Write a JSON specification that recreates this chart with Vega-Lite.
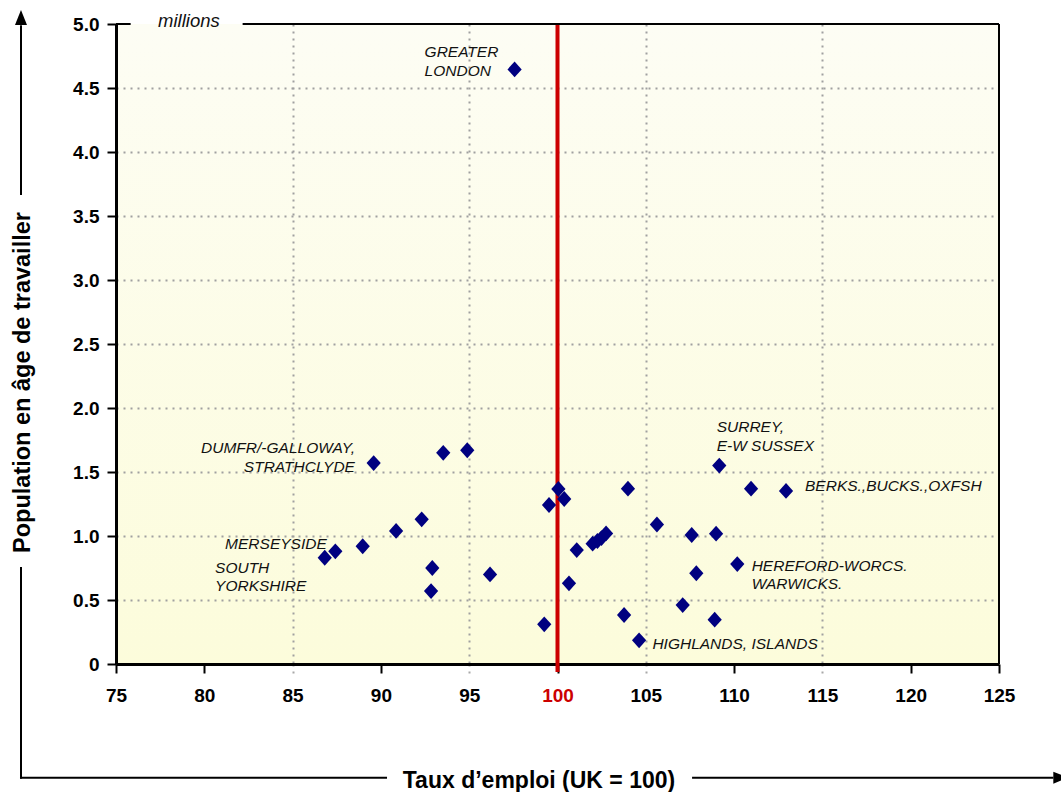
{
  "$schema": "https://vega.github.io/schema/vega-lite/v6.json",
  "width": 883,
  "height": 640,
  "autosize": {"type": "none"},
  "padding": {"left": 116, "top": 24, "right": 62, "bottom": 128},
  "background": "#ffffff",
  "view": {
    "stroke": null,
    "fill": {"gradient": "linear", "x1": 0, "y1": 0, "x2": 0, "y2": 1,
      "stops": [{"offset": 0, "color": "#fdfdf4"}, {"offset": 1, "color": "#fcfcdb"}]}
  },
  "datasets": {
    "regions": [
      {"region": "GREATER LONDON", "label": "GREATER\nLONDON", "taux": 97.57, "pop": 4.645},
      {"region": "DUMFR/-GALLOWAY, STRATHCLYDE", "label": "DUMFR/-GALLOWAY,\nSTRATHCLYDE", "taux": 89.59, "pop": 1.57},
      {"taux": 93.53, "pop": 1.65},
      {"taux": 94.89, "pop": 1.67},
      {"region": "SOUTH YORKSHIRE", "label": "SOUTH\nYORKSHIRE", "taux": 86.82, "pop": 0.83},
      {"region": "MERSEYSIDE", "label": "MERSEYSIDE", "taux": 87.42, "pop": 0.88},
      {"taux": 88.97, "pop": 0.92},
      {"taux": 90.86, "pop": 1.04},
      {"taux": 92.31, "pop": 1.13},
      {"taux": 92.91, "pop": 0.75},
      {"taux": 92.84, "pop": 0.57},
      {"taux": 96.18, "pop": 0.70},
      {"taux": 99.25, "pop": 0.31},
      {"taux": 99.52, "pop": 1.242},
      {"taux": 100.05, "pop": 1.367},
      {"taux": 100.38, "pop": 1.289},
      {"taux": 100.65, "pop": 0.63},
      {"taux": 101.09, "pop": 0.89},
      {"taux": 101.99, "pop": 0.94},
      {"taux": 102.26, "pop": 0.961},
      {"taux": 102.49, "pop": 0.984},
      {"taux": 102.75, "pop": 1.02},
      {"taux": 103.99, "pop": 1.37},
      {"taux": 103.77, "pop": 0.383},
      {"region": "HIGHLANDS, ISLANDS", "label": "HIGHLANDS, ISLANDS", "taux": 104.62, "pop": 0.185},
      {"taux": 105.63, "pop": 1.09},
      {"taux": 107.09, "pop": 0.46},
      {"taux": 107.6, "pop": 1.008},
      {"taux": 107.86, "pop": 0.709},
      {"taux": 108.9, "pop": 0.346},
      {"taux": 108.98, "pop": 1.018},
      {"region": "SURREY, E-W SUSSEX", "label": "SURREY,\nE-W SUSSEX", "taux": 109.16, "pop": 1.55},
      {"region": "HEREFORD-WORCS. WARWICKS.", "label": "HEREFORD-WORCS.\nWARWICKS.", "taux": 110.18, "pop": 0.781},
      {"taux": 110.96, "pop": 1.37},
      {"region": "BERKS.,BUCKS.,OXFSH", "label": "BERKS.,BUCKS.,OXFSH", "taux": 112.94, "pop": 1.352}
    ]
  },
  "layer": [
    {
      "data": {"values": [{}]},
      "mark": {"type": "rule", "color": "#cc0000", "strokeWidth": 4},
      "encoding": {
        "x": {"datum": 100, "type": "quantitative"},
        "y": {"datum": -0.0625, "type": "quantitative"},
        "y2": {"datum": 5}
      }
    },
    {
      "data": {"values": [{}]},
      "mark": {"type": "rule", "color": "#000000", "strokeWidth": 2},
      "encoding": {
        "x": {"datum": 75, "type": "quantitative"},
        "x2": {"datum": 75.83},
        "y": {"datum": 5, "type": "quantitative"}
      }
    },
    {
      "data": {"values": [{}]},
      "mark": {"type": "rule", "color": "#000000", "strokeWidth": 2},
      "encoding": {
        "x": {"datum": 82.17, "type": "quantitative"},
        "x2": {"datum": 125},
        "y": {"datum": 5, "type": "quantitative"}
      }
    },
    {
      "data": {"values": [{}]},
      "mark": {"type": "rule", "color": "#000000", "strokeWidth": 2},
      "encoding": {
        "x": {"datum": 125, "type": "quantitative"},
        "y": {"datum": 0, "type": "quantitative"},
        "y2": {"datum": 5}
      }
    },
    {
      "data": {"values": [{}]},
      "mark": {"type": "rule", "color": "#000000", "strokeWidth": 2, "strokeCap": "square"},
      "encoding": {
        "x": {"datum": 69.62, "type": "quantitative"},
        "y": {"datum": -0.888, "type": "quantitative"},
        "y2": {"datum": 0.75}
      }
    },
    {
      "data": {"values": [{}]},
      "mark": {"type": "rule", "color": "#000000", "strokeWidth": 2},
      "encoding": {
        "x": {"datum": 69.62, "type": "quantitative"},
        "y": {"datum": 3.664, "type": "quantitative"},
        "y2": {"datum": 4.99}
      }
    },
    {
      "data": {"values": [{}]},
      "mark": {"type": "rule", "color": "#000000", "strokeWidth": 2, "strokeCap": "square"},
      "encoding": {
        "x": {"datum": 69.62, "type": "quantitative"},
        "x2": {"datum": 90.29},
        "y": {"datum": -0.888, "type": "quantitative"}
      }
    },
    {
      "data": {"values": [{}]},
      "mark": {"type": "rule", "color": "#000000", "strokeWidth": 2},
      "encoding": {
        "x": {"datum": 107.62, "type": "quantitative"},
        "x2": {"datum": 128.08},
        "y": {"datum": -0.888, "type": "quantitative"}
      }
    },
    {
      "data": {"values": [{}]},
      "mark": {"type": "point", "shape": "M0,-1L0.8,1L-0.8,1Z", "filled": true, "size": 225, "color": "#000000", "opacity": 1},
      "encoding": {
        "x": {"datum": 69.62, "type": "quantitative"},
        "y": {"datum": 5.051, "type": "quantitative"}
      }
    },
    {
      "data": {"values": [{}]},
      "mark": {"type": "point", "shape": "M1,0L-1,-0.8L-1,0.8Z", "filled": true, "size": 225, "color": "#000000", "opacity": 1},
      "encoding": {
        "x": {"datum": 128.5, "type": "quantitative"},
        "y": {"datum": -0.888, "type": "quantitative"}
      }
    },
    {
      "data": {"name": "regions"},
      "mark": {"type": "point", "shape": "M0,-1L0.9,0L0,1L-0.9,0Z", "filled": true, "size": 250, "color": "#000080", "opacity": 1, "strokeWidth": 0},
      "encoding": {
        "x": {
          "field": "taux", "type": "quantitative",
          "scale": {"domain": [75, 125], "nice": false, "zero": false},
          "axis": {
            "values": [75, 80, 85, 90, 95, 100, 105, 110, 115, 120, 125],
            "title": "Taux d’emploi (UK = 100)",
            "titleFont": "Liberation Sans", "titleFontSize": 23, "titleFontWeight": "bold", "titleColor": "#000000",
            "titleX": 422.5, "titleY": 123, "titleAlign": "center", "titleBaseline": "alphabetic",
            "labelFont": "Liberation Sans", "labelFontSize": 19, "labelFontWeight": "bold",
            "labelColor": {"condition": {"test": "datum.value == 100", "value": "#cc0000"}, "value": "#000000"},
            "labelPadding": 13, "labelFlush": false, "labelOverlap": false,
            "tickSize": 9, "tickWidth": 2,
            "tickColor": {"condition": {"test": "datum.value % 10 == 5 && datum.value > 80 && datum.value < 120", "value": "#a8a8a8"}, "value": "#000000"},
            "tickDash": {"condition": {"test": "datum.value % 10 == 5 && datum.value > 80 && datum.value < 120", "value": [2, 5]}, "value": []},
            "domainColor": "#000000", "domainWidth": 3,
            "grid": true, "gridColor": "#a0a0a0", "gridDash": [2, 5], "gridWidth": 2,
            "gridOpacity": {"condition": {"test": "datum.value % 10 == 5 && datum.value > 80 && datum.value < 120", "value": 1}, "value": 0}
          }
        },
        "y": {
          "field": "pop", "type": "quantitative",
          "scale": {"domain": [0, 5], "nice": false, "zero": false},
          "axis": {
            "values": [0, 0.5, 1, 1.5, 2, 2.5, 3, 3.5, 4, 4.5, 5],
            "labelExpr": "datum.value == 0 ? '0' : format(datum.value, '.1f')",
            "title": "Population en âge de travailler",
            "titleFont": "Liberation Sans", "titleFontSize": 23.5, "titleFontWeight": "bold", "titleColor": "#000000",
            "titleX": -87, "titleY": 358, "titleAngle": 270, "titleAlign": "center", "titleBaseline": "alphabetic",
            "labelFont": "Liberation Sans", "labelFontSize": 19, "labelFontWeight": "bold", "labelColor": "#000000",
            "labelPadding": 8, "labelOverlap": false, "labelFlush": false,
            "tickSize": 9, "tickWidth": 2, "tickColor": "#000000",
            "domainColor": "#000000", "domainWidth": 3,
            "grid": true, "gridColor": "#a0a0a0", "gridDash": [2, 5], "gridWidth": 2,
            "gridOpacity": {"condition": {"test": "datum.value > 0 && datum.value < 5", "value": 1}, "value": 0}
          }
        }
      }
    },
    {
      "data": {"name": "regions"},
      "transform": [{"filter": "datum.region == 'GREATER LONDON'"}],
      "mark": {"type": "text", "align": "left", "baseline": "alphabetic", "dx": -90, "dy": -12, "lineBreak": "\n", "lineHeight": 18.5, "font": "Liberation Sans", "fontSize": 15.5, "fontStyle": "italic", "color": "#111111"},
      "encoding": {"x": {"field": "taux", "type": "quantitative"}, "y": {"field": "pop", "type": "quantitative"}, "text": {"field": "label"}}
    },
    {
      "data": {"name": "regions"},
      "transform": [{"filter": "datum.region == 'DUMFR/-GALLOWAY, STRATHCLYDE'"}],
      "mark": {"type": "text", "align": "right", "baseline": "alphabetic", "dx": -18.7, "dy": -10, "lineBreak": "\n", "lineHeight": 18.5, "font": "Liberation Sans", "fontSize": 15.5, "fontStyle": "italic", "color": "#111111"},
      "encoding": {"x": {"field": "taux", "type": "quantitative"}, "y": {"field": "pop", "type": "quantitative"}, "text": {"field": "label"}}
    },
    {
      "data": {"name": "regions"},
      "transform": [{"filter": "datum.region == 'MERSEYSIDE'"}],
      "mark": {"type": "text", "align": "right", "baseline": "alphabetic", "dx": -8.6, "dy": -2.3, "font": "Liberation Sans", "fontSize": 15.5, "fontStyle": "italic", "color": "#111111"},
      "encoding": {"x": {"field": "taux", "type": "quantitative"}, "y": {"field": "pop", "type": "quantitative"}, "text": {"field": "label"}}
    },
    {
      "data": {"name": "regions"},
      "transform": [{"filter": "datum.region == 'SOUTH YORKSHIRE'"}],
      "mark": {"type": "text", "align": "left", "baseline": "alphabetic", "dx": -109.7, "dy": 15, "lineBreak": "\n", "lineHeight": 18, "font": "Liberation Sans", "fontSize": 15.5, "fontStyle": "italic", "color": "#111111"},
      "encoding": {"x": {"field": "taux", "type": "quantitative"}, "y": {"field": "pop", "type": "quantitative"}, "text": {"field": "label"}}
    },
    {
      "data": {"name": "regions"},
      "transform": [{"filter": "datum.region == 'SURREY, E-W SUSSEX'"}],
      "mark": {"type": "text", "align": "left", "baseline": "alphabetic", "dx": -2.6, "dy": -33.3, "lineBreak": "\n", "lineHeight": 18.3, "font": "Liberation Sans", "fontSize": 15.5, "fontStyle": "italic", "color": "#111111"},
      "encoding": {"x": {"field": "taux", "type": "quantitative"}, "y": {"field": "pop", "type": "quantitative"}, "text": {"field": "label"}}
    },
    {
      "data": {"name": "regions"},
      "transform": [{"filter": "datum.region == 'BERKS.,BUCKS.,OXFSH'"}],
      "mark": {"type": "text", "align": "left", "baseline": "alphabetic", "dx": 19, "dy": 0.3, "font": "Liberation Sans", "fontSize": 15.5, "fontStyle": "italic", "color": "#111111"},
      "encoding": {"x": {"field": "taux", "type": "quantitative"}, "y": {"field": "pop", "type": "quantitative"}, "text": {"field": "label"}}
    },
    {
      "data": {"name": "regions"},
      "transform": [{"filter": "datum.region == 'HEREFORD-WORCS. WARWICKS.'"}],
      "mark": {"type": "text", "align": "left", "baseline": "alphabetic", "dx": 14.4, "dy": 7.3, "lineBreak": "\n", "lineHeight": 17.8, "font": "Liberation Sans", "fontSize": 15.5, "fontStyle": "italic", "color": "#111111"},
      "encoding": {"x": {"field": "taux", "type": "quantitative"}, "y": {"field": "pop", "type": "quantitative"}, "text": {"field": "label"}}
    },
    {
      "data": {"name": "regions"},
      "transform": [{"filter": "datum.region == 'HIGHLANDS, ISLANDS'"}],
      "mark": {"type": "text", "align": "left", "baseline": "alphabetic", "dx": 13.3, "dy": 9, "font": "Liberation Sans", "fontSize": 15.5, "fontStyle": "italic", "color": "#111111"},
      "encoding": {"x": {"field": "taux", "type": "quantitative"}, "y": {"field": "pop", "type": "quantitative"}, "text": {"field": "label"}}
    },
    {
      "data": {"values": [{"unit": "millions"}]},
      "mark": {"type": "text", "align": "center", "baseline": "alphabetic", "font": "Liberation Sans", "fontSize": 18.5, "fontStyle": "italic", "color": "#111111"},
      "encoding": {
        "x": {"datum": 79.13, "type": "quantitative"},
        "y": {"datum": 4.979, "type": "quantitative"},
        "text": {"field": "unit"}
      }
    }
  ]
}
